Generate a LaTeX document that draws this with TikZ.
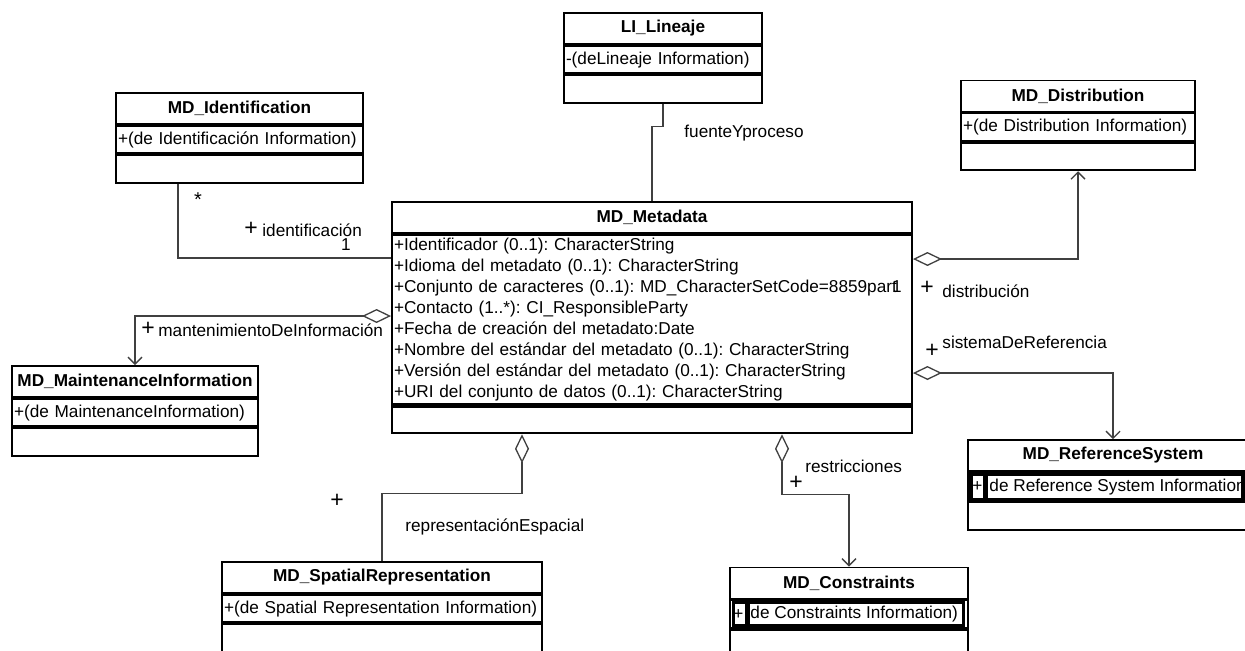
\documentclass[tikz,border=0pt]{standalone}
\usepackage{fontspec}
\setmainfont{Liberation Sans}
\usetikzlibrary{shapes,arrows.meta,positioning}
\frenchspacing

\begin{document}
\begin{tikzpicture}[x=0.5pt, y=-0.5pt,
  classtitle/.style={rectangle, draw, line width=0.95pt, minimum height=15.5pt, inner sep=0pt, font=\fontsize{8.6}{10}\selectfont\bfseries},
  classattr/.style={rectangle, draw, line width=0.95pt, minimum height=13.75pt, inner xsep=1pt, inner ysep=0pt, align=left, font=\fontsize{8.6}{10.55}\selectfont},
  classop/.style={rectangle, draw, line width=0.95pt, minimum height=13.75pt, inner sep=0pt},
  assoc/.style={draw=black!75, line width=0.65pt},
  aggr/.style={assoc, {Diamond[open, length=14.5pt, width=7pt]}-},
  aggrto/.style={assoc, {Diamond[open, length=14.5pt, width=7pt]}-{Straight Barb[length=3.5pt, width=7pt]}},
  lbl/.style={font=\fontsize{8.6}{10}\selectfont, inner sep=0pt},
  plus/.style={font=\fontsize{11.5}{12}\selectfont, inner sep=0pt}]
\useasboundingbox (0,0) rectangle (1245,650);
\clip (0,0) rectangle (1245,650);
\fill[white] (0,0) rectangle (1245,650);

% classes
\node[classtitle, minimum width=99pt] (lin-title) at (663,28.5) {LI\_Lineaje};
\node[classattr, text width=97pt, below=0pt of lin-title] (lin-attr) {-(deLineaje Information)};
\node[classop, minimum width=99pt, below=0pt of lin-attr] (lin-op) {};

\node[classtitle, minimum width=123.5pt] (ident-title) at (239.5,108.5) {MD\_Identification};
\node[classattr, text width=121.5pt, below=0pt of ident-title] (ident-attr) {+(de Identificación Information)};
\node[classop, minimum width=123.5pt, below=0pt of ident-attr] (ident-op) {};

\node[classtitle, minimum width=117pt] (dist-title) at (1078,96) {MD\_Distribution};
\node[classattr, text width=115pt, below=0pt of dist-title] (dist-attr) {+(de Distribution Information)};
\node[classop, minimum width=117pt, below=0pt of dist-attr] (dist-op) {};

\node[classtitle, minimum width=260pt] (meta-title) at (652,217.5) {MD\_Metadata};
\node[classattr, text width=258pt, minimum height=84.5pt, below=0pt of meta-title] (meta-attr) {+Identificador (0..1): CharacterString\\
+Idioma del metadato (0..1): CharacterString\\
+Conjunto de caracteres (0..1): MD\_CharacterSetCode=8859par\rlap{t}1\\
+Contacto (1..*): CI\_ResponsibleParty\\
+Fecha de creación del metadato:Date\\
+Nombre del estándar del metadato (0..1): CharacterString\\
+Versión del estándar del metadato (0..1): CharacterString\\
+URI del conjunto de datos (0..1): CharacterString};
\node[classop, minimum width=260pt, below=0pt of meta-attr] (meta-op) {};
\draw[line width=0.5pt] ([yshift=-1.5pt]meta-op.north west) -- ([yshift=-1.5pt]meta-op.north east);

\node[classtitle, minimum width=123pt] (maint-title) at (135,381.5) {MD\_MaintenanceInformation};
\node[classattr, text width=121pt, below=0pt of maint-title] (maint-attr) {+(de MaintenanceInformation)};
\node[classop, minimum width=123pt, below=0pt of maint-attr] (maint-op) {};

\node[classtitle, minimum width=160pt] (spat-title) at (382,577.5) {MD\_SpatialRepresentation};
\node[classattr, text width=158pt, below=0pt of spat-title] (spat-attr) {+(de Spatial Representation Information)};
\node[classop, minimum width=160pt, below=0pt of spat-attr] (spat-op) {};

\node[classtitle, minimum width=119pt] (cons-title) at (849,583) {MD\_Constraints};
\node[classattr, text width=117pt, below=0pt of cons-title] (cons-attr) {};
\node[classop, minimum width=119pt, below=0pt of cons-attr] (cons-op) {};
\node[draw, line width=1.5pt, minimum width=115pt, minimum height=11.5pt, inner sep=0pt, anchor=west] (cons-frame) at ([xshift=1.5pt]cons-attr.west) {};
\node[lbl, anchor=west] (cons-plus) at ([xshift=2pt]cons-attr.west) {+};
\draw[line width=2.5pt] (cons-frame.north -| 747.5,0) -- (cons-frame.south -| 747.5,0);
\node[lbl, anchor=west] (cons-text) at ([xshift=10.5pt]cons-attr.west) {de Constraints Information)};

\node[classtitle, minimum width=145pt] (ref-title) at (1113,455.5) {MD\_ReferenceSystem};
\node[classattr, text width=143pt, below=0pt of ref-title] (ref-attr) {};
\node[classop, minimum width=145pt, below=0pt of ref-attr] (ref-op) {};
\node[draw, line width=1.5pt, minimum width=135.5pt, minimum height=12.5pt, inner sep=0pt, anchor=west] (ref-frame) at ([xshift=1.5pt]ref-attr.west) {};
\node[lbl, anchor=west] (ref-plus) at ([xshift=2.5pt]ref-attr.west) {+};
\draw[line width=2.5pt] (ref-frame.north -| 985.5,0) -- (ref-frame.south -| 985.5,0);
\begin{scope}
\clip (ref-frame.north west) rectangle (ref-frame.south east);
\node[lbl, anchor=west] (ref-text) at ([xshift=11pt]ref-attr.west) {de Reference System Information};
\end{scope}
\draw[line width=1.5pt] (ref-frame.north west) rectangle (ref-frame.south east);

% connectors
\coordinate (id-bend) at (178,258);
\draw[assoc] (lin-op.south) -- ++(0,23) -| (meta-title.north);
\draw[assoc] (ident-op.south -| id-bend) |- (meta-attr.west |- id-bend);
\draw[aggrto] (meta-attr.west |- 0,316) -| (maint-title.north);
\draw[aggrto] (meta-attr.east |- 0,259) -| (dist-op.south);
\draw[aggrto] (meta-attr.east |- 0,373) -| (ref-title.north);
\draw[aggr] (meta-op.south -| 522,0) -- ++(0,59) -| (spat-title.north);
\draw[aggrto] (meta-op.south -| 782,0) -- ++(0,60) -| (cons-title.north);

% labels
\node[lbl, anchor=base west] (lbl-fuente) at (684,137) {fuenteYproceso};
\node[lbl, font=\fontsize{10}{10}\selectfont] (lbl-star) at (198,200) {*};
\node[plus] (lbl-id-plus) at (251,229) {+};
\node[lbl, anchor=base west] (lbl-id) at (262,236) {identificación};
\node[lbl, anchor=base] (lbl-one) at (346,250) {1};
\node[plus] (lbl-mant-plus) at (148,329) {+};
\node[lbl, anchor=base west] (lbl-mant) at (158,336) {mantenimientoDeInformación};
\node[plus] (lbl-dist-plus) at (927,288) {+};
\node[lbl, anchor=base west] (lbl-dist) at (942,297) {distribución};
\node[plus] (lbl-ref-plus) at (932,351) {+};
\node[lbl, anchor=base west] (lbl-ref) at (942,348) {sistemaDeReferencia};
\node[plus] (lbl-spat-plus) at (337,501) {+};
\node[lbl, anchor=base west] (lbl-spat) at (405,531) {representaciónEspacial};
\node[lbl, anchor=base west] (lbl-cons) at (805,472) {restricciones};
\node[plus] (lbl-cons-plus) at (796,483) {+};
\end{tikzpicture}
\end{document}
